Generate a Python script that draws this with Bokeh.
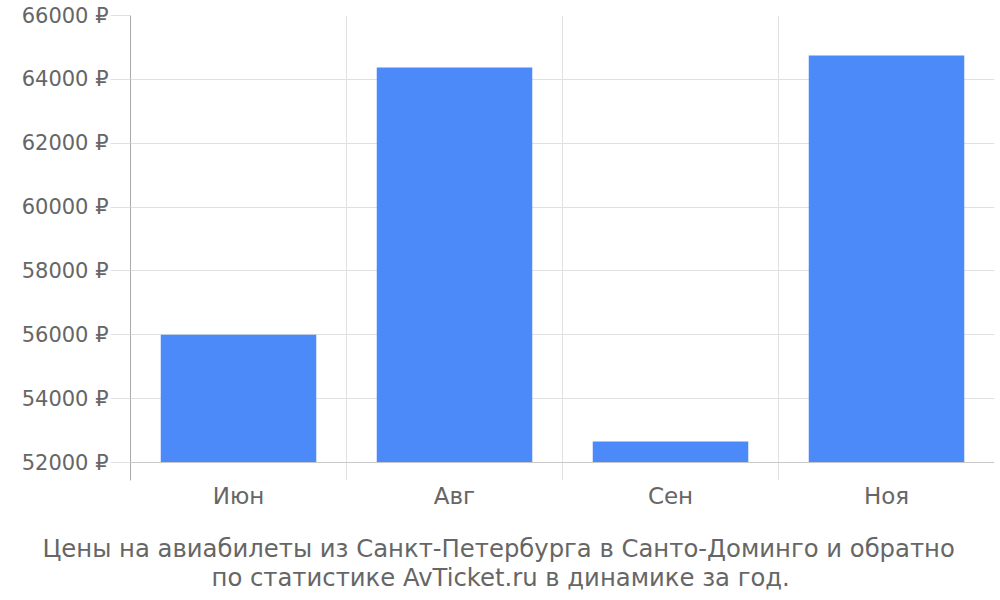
from bokeh.plotting import figure
from bokeh.models import Range1d, FixedTicker, Span, Title
from bokeh.embed import file_html
from bokeh.resources import INLINE

months = ["Июн", "Авг", "Сен", "Ноя"]
prices = [56000, 64370, 52660, 64750]
y_ticks = [52000, 54000, 56000, 58000, 60000, 62000, 64000, 66000]
base = 52000
title_lines = ["Цены на авиабилеты из Санкт-Петербурга в Санто-Доминго и обратно",
               "по статистике AvTicket.ru в динамике за год."]

FONT = "DejaVu Sans"
TXT = "#666666"
GRID = "#e0e0e0"

n = len(months)
xs = [i + 0.5 for i in range(n)]

p = figure(width=1000, height=600, output_backend="svg", toolbar_location=None,
           x_range=Range1d(0, n), y_range=Range1d(51437, 66000),
           min_border_left=130, min_border_top=15, min_border_right=6, min_border_bottom=120)
p.outline_line_color = None

p.vbar(x=xs, top=prices, bottom=base, width=0.72, color="#4c89f9", line_color=None)

p.xgrid.ticker = FixedTicker(ticks=list(range(n + 1)))
p.xgrid.grid_line_color = GRID
p.ygrid.ticker = FixedTicker(ticks=y_ticks)
p.ygrid.grid_line_color = GRID

p.add_layout(Span(location=base, dimension="width", line_color="#c8c8c8", line_width=1))

xa = p.xaxis[0]
xa.ticker = FixedTicker(ticks=xs)
xa.major_label_overrides = {x: m for x, m in zip(xs, months)}
xa.axis_line_color = None
xa.major_tick_line_color = None
xa.minor_tick_line_color = None
xa.major_label_text_font = FONT
xa.major_label_text_font_size = "23px"
xa.major_label_text_color = TXT
xa.major_label_standoff = -4
xa.axis_label = " "
xa.axis_label_text_font_size = "10px"
xa.axis_label_standoff = 6

ya = p.yaxis[0]
ya.ticker = FixedTicker(ticks=y_ticks)
ya.major_label_overrides = {t: f"{t} ₽" for t in y_ticks}
ya.axis_line_color = "#aaaaaa"
ya.major_tick_line_color = GRID
ya.major_tick_out = 20
ya.major_tick_in = 0
ya.minor_tick_line_color = None
ya.major_label_text_font = FONT
ya.major_label_text_font_size = "21px"
ya.major_label_text_color = TXT
ya.major_label_standoff = 2

title_offsets = [-88, 81]
title_standoffs = [0, -4]
for line, off, so in zip(title_lines, title_offsets, title_standoffs):
    t = Title(text=line, align="left", text_font=FONT, text_font_size="24.3px",
              text_font_style="normal", text_color=TXT, offset=off, standoff=so)
    p.add_layout(t, "below")

open("out.html", "w").write(file_html(p, INLINE))
